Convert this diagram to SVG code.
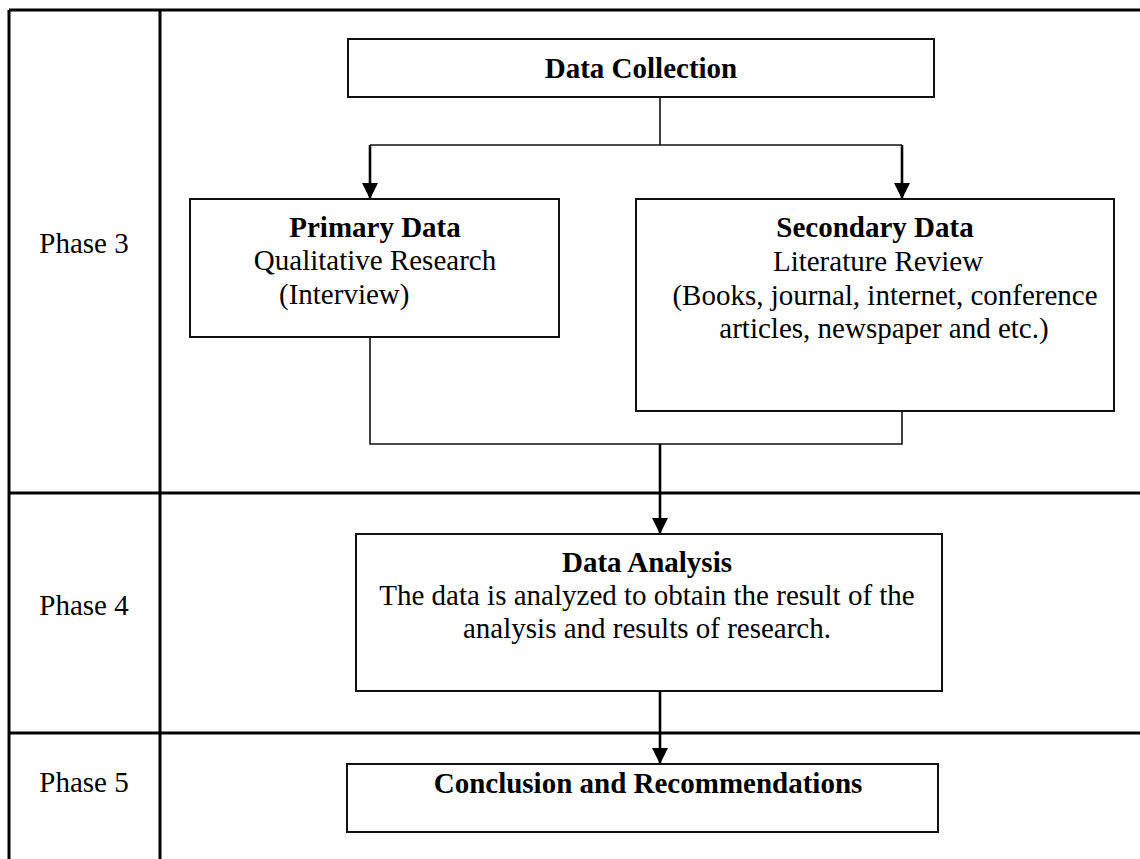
<svg xmlns="http://www.w3.org/2000/svg" width="1140" height="859" viewBox="0 0 1140 859">
  <style>
    .grid { stroke: #000; stroke-width: 3; fill: none; }
    .box { fill: #fff; stroke: #111; stroke-width: 2; }
    .link { stroke: #111; stroke-width: 1.6; fill: none; }
    .arrow { stroke: #000; stroke-width: 2.6; fill: none; }
    text { font-family: "Liberation Serif", "Times New Roman", serif; font-size: 29px; fill: #000; }
    .b { font-weight: bold; }
    .c { text-anchor: middle; }
  </style>
  <defs>
    <!-- filled arrowhead, drawn pointing along the line direction -->
    <marker id="head" markerUnits="userSpaceOnUse" markerWidth="16" markerHeight="16" viewBox="0 0 16 16" refX="16" refY="8" orient="auto">
      <path d="M0,0 L16,8 L0,16 Z" fill="#000"/>
    </marker>
  </defs>

  <rect width="1140" height="859" fill="#fff"/>

  <!-- phase table -->
  <g id="table">
    <line class="grid" x1="9" y1="10" x2="1140" y2="10"/>
    <line class="grid" x1="9" y1="10" x2="9" y2="859"/>
    <line class="grid" x1="160" y1="10" x2="160" y2="859"/>
    <line class="grid" x1="9" y1="493" x2="1140" y2="493"/>
    <line class="grid" x1="9" y1="733" x2="1140" y2="733"/>
    <text class="c" x="84" y="253">Phase 3</text>
    <text class="c" x="84" y="615">Phase 4</text>
    <text class="c" x="84" y="792">Phase 5</text>
  </g>

  <!-- connectors -->
  <g id="connectors">
    <polyline class="link" points="660,97 660,145"/>
    <polyline class="link" points="370,145 902,145"/>
    <line class="arrow" x1="370" y1="145" x2="370" y2="199" marker-end="url(#head)"/>
    <line class="arrow" x1="902" y1="145" x2="902" y2="199" marker-end="url(#head)"/>
    <polyline class="link" points="370,337 370,444 902,444 902,411"/>
    <line class="arrow" x1="660" y1="444" x2="660" y2="534" marker-end="url(#head)"/>
    <line class="arrow" x1="660" y1="691" x2="660" y2="764" marker-end="url(#head)"/>
  </g>

  <g id="data-collection">
    <rect class="box" x="348" y="39" width="586" height="58"/>
    <text class="b c" x="641" y="78" font-size="28.5">Data Collection</text>
  </g>

  <g id="primary-data">
    <rect class="box" x="190" y="199" width="369" height="138"/>
    <text class="b c" x="375" y="237">Primary Data</text>
    <text class="c" x="375" y="270">Qualitative Research</text>
    <text x="279" y="304">(Interview)</text>
  </g>

  <g id="secondary-data">
    <rect class="box" x="636" y="199" width="478" height="212"/>
    <text class="b c" x="875" y="237">Secondary Data</text>
    <text class="c" x="878" y="271">Literature Review</text>
    <text class="c" x="885" y="305">(Books, journal, internet, conference</text>
    <text class="c" x="884" y="338">articles, newspaper and etc.)</text>
  </g>

  <g id="data-analysis">
    <rect class="box" x="356" y="534" width="586" height="157"/>
    <text class="b c" x="647" y="572">Data Analysis</text>
    <text class="c" x="647" y="605">The data is analyzed to obtain the result of the</text>
    <text class="c" x="647" y="638">analysis and results of research.</text>
  </g>

  <g id="conclusion">
    <rect class="box" x="347" y="764" width="591" height="68"/>
    <text class="b c" x="648" y="793">Conclusion and Recommendations</text>
  </g>
</svg>
